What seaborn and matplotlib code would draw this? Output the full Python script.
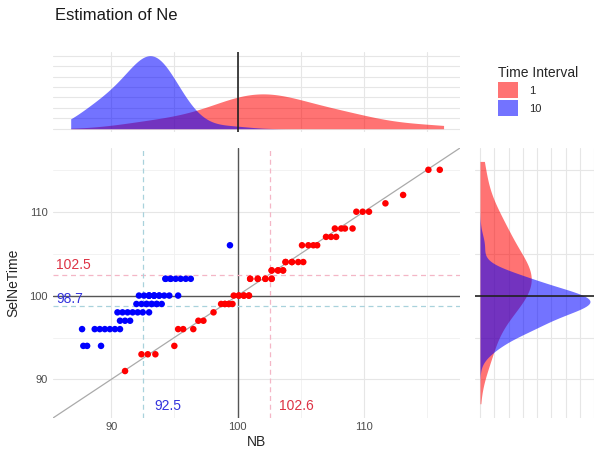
import numpy as np
import pandas as pd
import matplotlib.pyplot as plt
import seaborn as sns
from matplotlib.patches import Patch
from matplotlib.ticker import MultipleLocator

sns.set_theme(style="whitegrid")
plt.rcParams["font.family"] = ["Liberation Sans", "DejaVu Sans"]

# ── data ───────────────────────────────────────────────────────────────
# Time interval 1 (points in the dense middle rows are overplotted,
# so some values appear more than once)
nb_1 = [91.1, 92.4, 92.9, 93.5, 95.0, 95.3, 95.7, 96.5, 96.9, 97.3, 98.1,
        98.7, 99.0, 99.3, 99.6, 99.0, 99.3,
        99.7, 100.1, 100.5, 100.9, 100.1, 100.5, 100.9,
        101.0, 101.6, 102.2, 102.7, 101.6, 102.2, 101.0, 102.7,
        102.7, 103.2, 103.6, 102.7, 103.2, 103.6,
        103.8, 104.3, 104.8, 105.2, 103.8, 104.3,
        105.1, 105.6, 106.0, 106.3,
        107.0, 107.4, 107.8, 107.7, 108.2, 108.5, 109.1,
        109.4, 109.9, 110.4, 111.7, 113.1, 115.1, 116.0]
sel_1 = [91, 93, 93, 93, 94, 96, 96, 96, 97, 97, 98,
         99, 99, 99, 99, 99, 99,
         100, 100, 100, 100, 100, 100, 100,
         102, 102, 102, 102, 102, 102, 102, 102,
         103, 103, 103, 103, 103, 103,
         104, 104, 104, 104, 104, 104,
         106, 106, 106, 106,
         107, 107, 107, 108, 108, 108, 108,
         110, 110, 110, 111, 112, 115, 115]

# Time interval 10
nb_10 = [87.7, 87.8, 88.1, 89.2,
         88.7, 89.1, 89.5, 89.9, 90.3, 90.7,
         90.7, 91.1, 91.5,
         90.5, 90.9, 91.3, 91.7, 92.1, 92.5, 93.0,
         92.0, 92.4, 92.8, 93.2, 93.6, 94.0, 92.8, 93.2, 93.6,
         92.2, 92.6, 93.0, 93.4, 93.8, 94.2, 94.6, 95.3,
         93.0, 93.4, 93.8, 93.0, 93.4,
         94.3, 94.7, 95.1, 95.5, 95.9, 96.3, 94.3, 94.7,
         99.4]
sel_10 = [96, 94, 94, 94,
          96, 96, 96, 96, 96, 96,
          97, 97, 97,
          98, 98, 98, 98, 98, 98, 98,
          99, 99, 99, 99, 99, 99, 99, 99, 99,
          100, 100, 100, 100, 100, 100, 100, 100,
          100, 100, 100, 100, 100,
          102, 102, 102, 102, 102, 102, 102, 102,
          106]

# mean lines (labels shown on the chart)
mean_nb_1, mean_sel_1 = 102.6, 102.5
mean_nb_10, mean_sel_10 = 92.5, 98.7

df = pd.DataFrame({
    "NB": nb_1 + nb_10,
    "SelNeTime": sel_1 + sel_10,
    "Time Interval": ["1"] * len(nb_1) + ["10"] * len(nb_10),
})

palette = {"1": "red", "10": "blue"}
smooth_x = {"1": 1.0, "10": 1.35}
smooth_y = {"1": 1.0, "10": 1.1}
fill_alpha = 0.55
grid_c, grid_minor_c = "#E6E6E6", "#F0F0F0"
lims = (85.4, 117.6)

W, H = 594, 450
fig = plt.figure(figsize=(W / 100, H / 100), dpi=100)
ax = fig.add_axes([53 / W, 1 - 418 / H, 407 / W, 270 / H])
ax_top = fig.add_axes([53 / W, 1 - 132 / H, 407 / W, 80 / H])
ax_right = fig.add_axes([475 / W, 1 - 418 / H, 125 / W, 270 / H])


def style(a):
    for s in a.spines.values():
        s.set_visible(False)
    a.grid(True, which="major", color=grid_c, lw=0.8)
    a.grid(True, which="minor", color=grid_minor_c, lw=0.6)
    a.set_axisbelow(True)


# ── main scatter ───────────────────────────────────────────────────────
style(ax)
ax.axline((100, 100), slope=1, color="#AAAAAA", lw=0.9, zorder=1)
ax.axvline(100, color="#555555", lw=1.0, zorder=1)
ax.axhline(100, color="#555555", lw=1.0, zorder=1)
dash = (0, (4, 3))
ax.axvline(mean_nb_1, color="#F4B6C6", lw=0.9, ls=dash, zorder=1)
ax.axhline(mean_sel_1, color="#F4B6C6", lw=0.9, ls=dash, zorder=1)
ax.axvline(mean_nb_10, color="#A9D2DC", lw=0.9, ls=dash, zorder=1)
ax.axhline(mean_sel_10, color="#A9D2DC", lw=0.9, ls=dash, zorder=1)

sns.scatterplot(data=df, x="NB", y="SelNeTime", hue="Time Interval",
                palette=palette, s=22, linewidth=0, legend=False, ax=ax,
                zorder=3)

ax.text(mean_nb_10 + 0.9, 86.8, f"{mean_nb_10}", color="#3333DD",
        fontsize=10, va="center", ha="left")
ax.text(mean_nb_1 + 0.7, 86.8, f"{mean_nb_1}", color="#DD3344",
        fontsize=10, va="center", ha="left")
ax.text(85.6, mean_sel_1 + 1.1, f"{mean_sel_1}", color="#DD3344",
        fontsize=10, va="center", ha="left")
ax.text(85.7, mean_sel_10 + 0.9, f"{mean_sel_10}", color="#3333DD",
        fontsize=10, va="center", ha="left")

ax.set_xlim(*lims)
ax.set_ylim(*lims)
ax.set_xticks([90, 100, 110])
ax.set_yticks([90, 100, 110])
ax.xaxis.set_minor_locator(MultipleLocator(5))
ax.yaxis.set_minor_locator(MultipleLocator(5))
ax.tick_params(which="both", length=0, labelsize=8, colors="#4D4D4D")
ax.tick_params(axis="x", pad=3)
ax.tick_params(axis="y", pad=4)
ax.set_xlabel("NB", fontsize=10, labelpad=2)
ax.set_ylabel("SelNeTime", fontsize=10, labelpad=6)

# ── top marginal density (red first, blue over it) ─────────────────────
style(ax_top)
for key in ["1", "10"]:
    sns.kdeplot(data=df[df["Time Interval"] == key], x="NB",
                color=palette[key], fill=True, alpha=fill_alpha, linewidth=0,
                bw_method="silverman", bw_adjust=smooth_x[key],
                cut=10, clip=(86.8, 116.3), ax=ax_top)
ax_top.axvline(100, color="#222222", lw=1.2)
peak = max(c.get_paths()[0].vertices[:, 1].max() for c in ax_top.collections)
ax_top.set_xlim(*lims)
ax_top.set_ylim(-0.045 * peak, 1.05 * peak)
ax_top.xaxis.set_major_locator(MultipleLocator(5))
ax_top.yaxis.set_major_locator(MultipleLocator(peak / 7))
ax_top.tick_params(length=0, labelbottom=False, labelleft=False)
ax_top.set_xlabel("")
ax_top.set_ylabel("")

# ── right marginal density ─────────────────────────────────────────────
style(ax_right)
for key in ["1", "10"]:
    sns.kdeplot(data=df[df["Time Interval"] == key], y="SelNeTime",
                color=palette[key], fill=True, alpha=fill_alpha, linewidth=0,
                bw_method="silverman", bw_adjust=smooth_y[key],
                cut=10, clip=(87.1, 116.0), ax=ax_right)
ax_right.axhline(100, color="#222222", lw=1.2)
peak_r = max(c.get_paths()[0].vertices[:, 0].max() for c in ax_right.collections)
ax_right.set_ylim(*lims)
ax_right.set_xlim(-5 / 110 * peak_r, 120 / 110 * peak_r)
ax_right.yaxis.set_major_locator(MultipleLocator(5))
ax_right.xaxis.set_major_locator(MultipleLocator(peak_r / 7.7))
ax_right.tick_params(length=0, labelbottom=False, labelleft=False)
ax_right.set_xlabel("")
ax_right.set_ylabel("")

# ── title and legend ───────────────────────────────────────────────────
fig.text(55 / W, 1 - 16 / H, "Estimation of Ne", fontsize=12, va="center",
         color="#1A1A1A")
handles = [Patch(facecolor=palette[k], alpha=fill_alpha, edgecolor="none")
           for k in ["1", "10"]]
leg = fig.legend(handles, ["1", "10"], title="Time Interval",
                 loc="upper left", bbox_to_anchor=(488 / W, 1 - 56 / H),
                 frameon=False, fontsize=8, title_fontsize=10,
                 handlelength=1.8, handleheight=1.8, labelspacing=0.2,
                 handletextpad=1.0, alignment="left")

fig.savefig("out.png", dpi=100)
